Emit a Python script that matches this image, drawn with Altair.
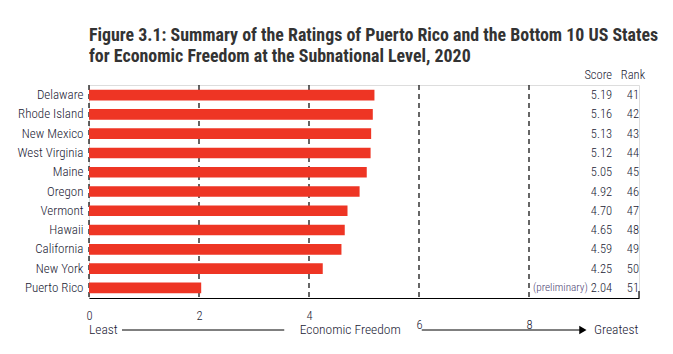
import altair as alt
import pandas as pd

states = ["Delaware", "Rhode Island", "New Mexico", "West Virginia", "Maine", "Oregon",
          "Vermont", "Hawaii", "California", "New York", "Puerto Rico"]
scores = [5.19, 5.16, 5.13, 5.12, 5.05, 4.92, 4.70, 4.65, 4.59, 4.25, 2.04]
ranks = [41, 42, 43, 44, 45, 46, 47, 48, 49, 50, 51]
score_labels = ["5.19", "5.16", "5.13", "5.12", "5.05", "4.92", "4.70", "4.65", "4.59", "4.25",
                "2.04"]
notes = ["", "", "", "", "", "", "", "", "", "", "(preliminary)"]
grid_values = [0, 2, 4, 6, 8]

SCORE_X = 9.51
NOTE_X = 9.07
RANK_X = 9.89

df = pd.DataFrame({"state": states, "score": scores, "rank": ranks, "slabel": score_labels,
                   "note": notes, "sx": SCORE_X, "nx": NOTE_X, "rx": RANK_X})
grid_df = pd.DataFrame({"g": grid_values})

FONT = "Roboto Condensed, Roboto"
TITLE_FONT = "Roboto Condensed, Roboto"
TXT = "#1a1a33"
RED = "#ee3524"
W = 300

xscale = alt.Scale(domain=[0, 10], nice=False)
yscale = alt.Scale(paddingInner=0.45, paddingOuter=0.25)

base = alt.Chart(df)

bars = base.mark_bar(color=RED).encode(
    x=alt.X("score:Q", scale=xscale,
            axis=alt.Axis(values=grid_values, title=None, grid=False, ticks=False,
                          domain=True, domainColor="#000000", domainWidth=1.2,
                          labelFont=FONT, labelFontSize=12.5, labelColor=TXT,
                          labelFontWeight=W,
                          labelPadding={"condition": {"test": "datum.value >= 6", "value": 20},
                                        "value": 11},
                          labelFlush=False)),
    y=alt.Y("state:N", sort=states, scale=yscale,
            axis=alt.Axis(title=None, domain=False, ticks=False, grid=False,
                          labelFont=FONT, labelFontSize=13, labelColor=TXT,
                          labelFontWeight=W, labelPadding=6)),
)

grid = alt.Chart(grid_df).mark_rule(color="#000000", strokeDash=[5, 4], strokeWidth=1.2).encode(
    x=alt.X("g:Q", scale=xscale),
    y=alt.value(0), y2=alt.value(213),
)

end_tick = alt.Chart(pd.DataFrame({"e": [10]})).mark_rule(color="#000000", strokeWidth=1.2).encode(
    x=alt.X("e:Q", scale=xscale), y=alt.value(206), y2=alt.value(213))

score_txt = base.mark_text(align="right", baseline="middle", font=FONT, fontSize=12.5,
                           fontWeight=W, color=TXT).encode(
    x=alt.X("sx:Q", scale=xscale), y=alt.Y("state:N", sort=states, scale=yscale),
    text="slabel:N")

note_txt = base.mark_text(align="right", baseline="middle", font=FONT, fontSize=11.2,
                          fontWeight=W, color="#4d4373").encode(
    x=alt.X("nx:Q", scale=xscale), y=alt.Y("state:N", sort=states, scale=yscale),
    text="note:N")

rank_txt = base.mark_text(align="center", baseline="middle", font=FONT, fontSize=12.5,
                          fontWeight=W, color=TXT).encode(
    x=alt.X("rx:Q", scale=xscale), y=alt.Y("state:N", sort=states, scale=yscale),
    text="rank:N")

hdr_df = pd.DataFrame({"x": [SCORE_X, RANK_X], "t": ["Score", "Rank"]})
hdr_score = alt.Chart(hdr_df.iloc[[0]]).mark_text(align="right", baseline="middle", font=FONT,
                                                  fontSize=12.5, fontWeight=W, color=TXT).encode(
    x=alt.X("x:Q", scale=xscale), y=alt.value(-10), text="t:N")
hdr_rank = alt.Chart(hdr_df.iloc[[1]]).mark_text(align="center", baseline="middle", font=FONT,
                                                 fontSize=12.5, fontWeight=W, color=TXT).encode(
    x=alt.X("x:Q", scale=xscale), y=alt.value(-10), text="t:N")

# bottom legend "Least ---- Economic Freedom ----> Greatest"
ann_y = 245
ann_left = pd.DataFrame({"x": [0.0, 9.18], "t": ["Least", "Greatest"]})
ann_txt = alt.Chart(ann_left).mark_text(align="left", baseline="middle", font=FONT,
                                         fontSize=13.5, fontWeight=W, color=TXT).encode(
    x=alt.X("x:Q", scale=xscale), y=alt.value(ann_y), text="t:N")
ann_mid = alt.Chart(pd.DataFrame({"x": [4.75], "t": ["Economic Freedom"]})).mark_text(
    align="center", baseline="middle", font=FONT, fontSize=13.5, fontWeight=W, color=TXT).encode(
    x=alt.X("x:Q", scale=xscale), y=alt.value(ann_y), text="t:N")
seg_df = pd.DataFrame({"a": [0.6, 6.05], "b": [3.55, 8.95]})
ann_lines = alt.Chart(seg_df).mark_rule(color="#000000", strokeWidth=1).encode(
    x=alt.X("a:Q", scale=xscale), x2="b:Q", y=alt.value(ann_y))
arrow = alt.Chart(pd.DataFrame({"x": [8.98]})).mark_point(
    shape="triangle-right", filled=True, color="#000000", size=70, opacity=1).encode(
    x=alt.X("x:Q", scale=xscale), y=alt.value(ann_y))

chart = alt.layer(grid, end_tick, bars, score_txt, note_txt, rank_txt, hdr_score, hdr_rank,
                  ann_lines, arrow, ann_txt, ann_mid).properties(
    width=550, height=213,
    autosize=alt.AutoSizeParams(type="none"),
    padding={"left": 89, "top": 85, "right": 34, "bottom": 56},
    title=alt.TitleParams(
        text=["Figure 3.1: Summary of the Ratings of Puerto Rico and the Bottom 10 US States",
              "for Economic Freedom at the Subnational Level, 2020"],
        anchor="start", frame="group", font=TITLE_FONT, fontSize=17.9, fontWeight="bold",
        color="#333333", lineHeight=21, offset=3),
).configure_view(stroke=None).configure(background="white")

chart.save("out.html", embed_options={"renderer": "svg", "actions": False})
